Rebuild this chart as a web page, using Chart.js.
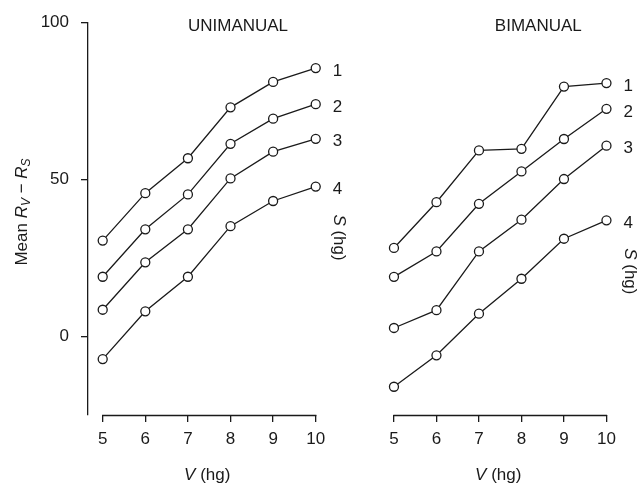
<!DOCTYPE html>
<html><head><meta charset="utf-8">
<script src="https://cdn.jsdelivr.net/npm/chart.js@4/dist/chart.umd.min.js"></script>
<style>
html,body{margin:0;padding:0;background:#fff;}
#wrap{position:relative;width:637px;height:484px;overflow:hidden;background:#fff;}
.box{position:absolute;top:0;}
</style></head><body>
<div id="wrap">
  <div class="box" style="left:0;width:360px;height:484px"><canvas id="c1" width="360" height="484"></canvas></div>
  <div class="box" style="left:360px;width:277px;height:484px"><canvas id="c2" width="277" height="484"></canvas></div>
</div>
<script>
// ---- data ----
const vValues = [5, 6, 7, 8, 9, 10];
const sLevels = ['1', '2', '3', '4'];
const yTicks = [0, 50, 100];
const panelTitles = ['UNIMANUAL', 'BIMANUAL'];

const uniS1 = [30.5, 45.6, 56.7, 72.9, 81.0, 85.4];
const uniS2 = [19.0, 34.1, 45.2, 61.3, 69.3, 73.9];
const uniS3 = [8.5, 23.6, 34.1, 50.3, 58.8, 62.9];
const uniS4 = [-7.2, 8.0, 19.0, 35.1, 43.1, 47.7];

const biS1 = [27.6, 42.0, 58.3, 58.8, 78.4, 79.5];
const biS2 = [18.5, 26.5, 41.5, 51.7, 61.9, 71.4];
const biS3 = [2.4, 8.0, 26.5, 36.5, 49.3, 59.8];
const biS4 = [-16.1, -6.2, 6.9, 17.9, 30.5, 36.3];

// ---- styling ----
const FONT = '"Liberation Sans", Arial, Helvetica, sans-serif';
const INK = '#1a1a1a';
Chart.defaults.font.family = FONT;
Chart.defaults.color = INK;

function makeDatasets(series) {
  return series.map((vals, i) => ({
    label: sLevels[i],
    data: vals.map((y, j) => ({x: vValues[j], y: y})),
    borderColor: INK,
    borderWidth: 1.3,
    tension: 0,
    pointRadius: 4.5,
    pointHoverRadius: 4.5,
    pointBackgroundColor: '#fff',
    pointBorderColor: INK,
    pointBorderWidth: 1.3,
    fill: false,
    clip: false
  }));
}

function drawParts(ctx, parts, cx, cy, angle) {
  ctx.save();
  ctx.translate(cx, cy);
  ctx.rotate(angle);
  ctx.textBaseline = 'middle';
  ctx.textAlign = 'left';
  let total = 0;
  parts.forEach(p => {
    ctx.font = (p.italic ? 'italic ' : '') + p.size + 'px ' + FONT;
    p.w = ctx.measureText(p.t).width;
    total += p.w;
  });
  let x = -total / 2;
  parts.forEach(p => {
    ctx.font = (p.italic ? 'italic ' : '') + p.size + 'px ' + FONT;
    ctx.fillStyle = INK;
    ctx.fillText(p.t, x, p.dy || 0);
    x += p.w;
  });
  ctx.restore();
}

const decor = {
  id: 'decor',
  afterDraw(chart, args, opts) {
    const ctx = chart.ctx;
    const xs = chart.scales.x;
    const ca = chart.chartArea;
    const x0 = xs.getPixelForValue(vValues[0]);
    const x1 = xs.getPixelForValue(vValues[vValues.length - 1]);
    // detached x axis line
    ctx.save();
    ctx.strokeStyle = INK;
    ctx.lineWidth = 1.3;
    ctx.beginPath();
    ctx.moveTo(x0 - 0.65, ca.bottom + 0.5);
    ctx.lineTo(x1 + 0.65, ca.bottom + 0.5);
    ctx.stroke();
    ctx.restore();

    // series labels (S levels)
    ctx.save();
    ctx.font = '17px ' + FONT;
    ctx.fillStyle = INK;
    ctx.textAlign = 'left';
    ctx.textBaseline = 'middle';
    let lastLabelY = 0, lastX = 0;
    chart.data.datasets.forEach((ds, i) => {
      const meta = chart.getDatasetMeta(i);
      const pt = meta.data[meta.data.length - 1];
      lastX = pt.x;
      lastLabelY = pt.y + 3;
      ctx.fillText(ds.label, pt.x + 17, lastLabelY);
    });
    ctx.restore();

    // S (hg) rotated
    drawParts(ctx, [
      {t: 'S', italic: true, size: 17},
      {t: ' (hg)', italic: false, size: 17}
    ], lastX + 23, lastLabelY + 48, Math.PI / 2);

    // panel title
    ctx.save();
    ctx.font = '17px ' + FONT;
    ctx.fillStyle = INK;
    ctx.textAlign = 'center';
    ctx.textBaseline = 'middle';
    ctx.fillText(opts.title, opts.titleX, 26);
    ctx.restore();

    // x axis title
    drawParts(ctx, [
      {t: 'V', italic: true, size: 17},
      {t: ' (hg)', italic: false, size: 17}
    ], (x0 + x1) / 2 - 2, 475, 0);

    // y axis title
    if (opts.yTitle) {
      drawParts(ctx, [
        {t: 'Mean ', size: 17},
        {t: 'R', italic: true, size: 17},
        {t: 'V', italic: true, size: 12, dy: 5},
        {t: ' \u2212 ', size: 17},
        {t: 'R', italic: true, size: 17},
        {t: 'S', italic: true, size: 12, dy: 5}
      ], 22, 212, -Math.PI / 2);
    }
  }
};

function xScale() {
  return {
    type: 'linear',
    min: 4.655,
    max: 10.335,
    afterBuildTicks: s => { s.ticks = vValues.map(v => ({value: v})); },
    afterFit: s => { s.height = 69; },
    ticks: {font: {size: 17}, color: INK, padding: 7, autoSkip: false, maxRotation: 0, minRotation: 0},
    grid: {drawOnChartArea: false, drawTicks: true, tickLength: 7, color: INK, lineWidth: 1.3},
    border: {display: false}
  };
}

function yScale(show) {
  return {
    type: 'linear',
    display: show,
    min: -25,
    max: 100,
    afterBuildTicks: s => { s.ticks = yTicks.map(v => ({value: v})); },
    afterFit: s => { s.width = show ? 88 : 0; },
    ticks: {font: {size: 17}, color: INK, padding: 12},
    grid: {drawOnChartArea: false, drawTicks: true, tickLength: 7, color: INK, lineWidth: 1.3},
    border: {display: true, color: INK, width: 1.3}
  };
}

new Chart(document.getElementById('c1'), {
  type: 'line',
  data: {datasets: makeDatasets([uniS1, uniS2, uniS3, uniS4])},
  options: {
    responsive: false,
    animation: false,
    layout: {padding: {left: 0, top: 18, right: 30, bottom: 0}},
    scales: {x: xScale(), y: yScale(true)},
    plugins: {
      legend: {display: false},
      tooltip: {enabled: false},
      decor: {title: panelTitles[0], titleX: 238, yTitle: true}
    }
  },
  plugins: [decor]
});

new Chart(document.getElementById('c2'), {
  type: 'line',
  data: {datasets: makeDatasets([biS1, biS2, biS3, biS4])},
  options: {
    responsive: false,
    animation: false,
    layout: {padding: {left: 19.3, top: 18, right: 16.3, bottom: 0}},
    scales: {x: xScale(), y: yScale(false)},
    plugins: {
      legend: {display: false},
      tooltip: {enabled: false},
      decor: {title: panelTitles[1], titleX: 178.3, yTitle: false}
    }
  },
  plugins: [decor]
});
</script>
</body></html>
